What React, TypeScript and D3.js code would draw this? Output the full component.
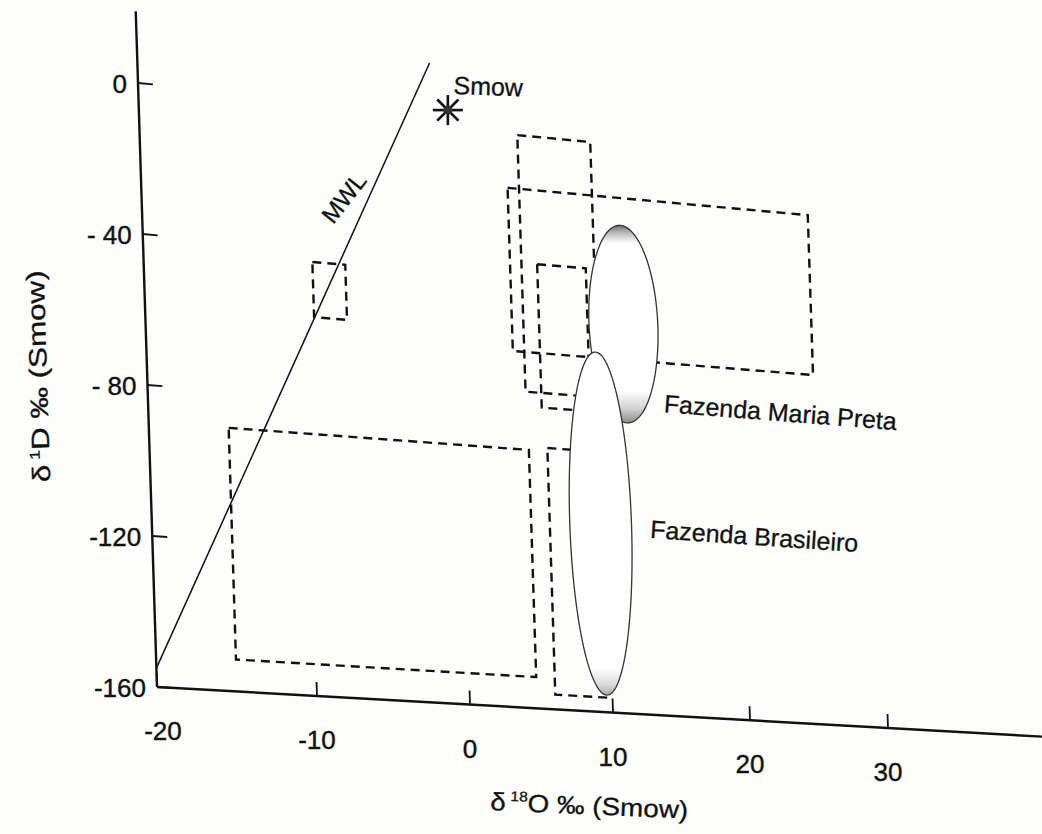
import React from "react";
import * as d3 from "d3";

// ---------- data ----------
const xTicks = [-20, -10, 0, 10, 20, 30];
const xTickLabels = ["-20", "-10", "0", "10", "20", "30"];
const yTicks = [0, -40, -80, -120, -160];
const yTickLabels = ["0", "- 40", "- 80", "-120", "-160"];

// dashed fields (δ18O range x δD range)
const boxX0 = [-9.4, -15.0, 6.0, 4.6, 3.8, 5.7];
const boxX1 = [-7.25, 4.7, 9.7, 9.7, 25.4, 9.1];
const boxY0 = [-58.4, -151.5, -156.0, -74.0, -63.2, -78.0];
const boxY1 = [-43.6, -89.8, -88.9, -4.3, -18.9, -39.0];

// ellipses (drawn in this order)
const fieldNames = ["Fazenda Maria Preta", "Fazenda Brasileiro"];
const fieldCx = [11.7, 9.6];
const fieldCy = [-53.4, -108.5];
const fieldRx = [2.5, 2.2];
const fieldRy = [27.0, 46.8];
const fieldLabelX = [14.4, 13.1];
const fieldLabelY = [-76.7, -111.5];

// meteoric water line end points
const mwlX = [-20, -1.3];
const mwlY = [-155, 13];
const mwlLabel = { text: "MWL", x: -7.2, y: -25.6 };

const smow = { x: -0.2, y: 0.7, label: "Smow", lx: 0.2, ly: 5.2 };

// ---------- layout (photographed, slightly skewed frame) ----------
const W = 1042;
const H = 834;
const xs = d3
  .scaleLinear()
  .domain(xTicks)
  .range([0, 160, 313, 456, 593, 731].map((d) => d / 731));
const ys = d3.scaleLinear().domain([-160, 0]).range([0, 1]);
const P00 = [157, 687];
const P10 = [888, 728];
const P01 = [138, 83];
const P11 = [869, 153];

function project(x: number, y: number): [number, number] {
  const u = xs(x);
  const v = ys(y);
  const a = (1 - u) * (1 - v), b = u * (1 - v), c = (1 - u) * v, d = u * v;
  return [
    a * P00[0] + b * P10[0] + c * P01[0] + d * P11[0],
    a * P00[1] + b * P10[1] + c * P01[1] + d * P11[1],
  ];
}
function unitDir(x: number, y: number, dx: number, dy: number): [number, number] {
  const p = project(x, y);
  const q = project(x + dx, y + dy);
  const l = Math.hypot(q[0] - p[0], q[1] - p[1]);
  return [(q[0] - p[0]) / l, (q[1] - p[1]) / l];
}
function angleAt(x: number, y: number) {
  const d = unitDir(x, y, 1, 0);
  return (Math.atan2(d[1], d[0]) * 180) / Math.PI;
}

const line = d3.line<[number, number]>().x((d) => d[0]).y((d) => d[1]);
const closed = d3
  .line<[number, number]>()
  .x((d) => d[0])
  .y((d) => d[1])
  .curve(d3.curveLinearClosed);

const FONT = "'Liberation Sans', Arial, Helvetica, sans-serif";
const INK = "#111";

export default function App() {
  const xAxis = line([project(-20, -160), project(45, -160)]);
  const yAxis = line([project(-20, -160), project(-20, 19)]);

  const yAxisAngle = (() => {
    const d = unitDir(-20, -80, 0, 1);
    return (Math.atan2(d[1], d[0]) * 180) / Math.PI;
  })();

  const ellipsePaths = fieldNames.map((_, i) => {
    const pts: [number, number][] = d3.range(0, 160).map((k) => {
      const t = (k / 160) * Math.PI * 2;
      return project(
        fieldCx[i] + fieldRx[i] * Math.cos(t),
        fieldCy[i] + fieldRy[i] * Math.sin(t)
      );
    });
    return closed(pts) as string;
  });

  const star = project(smow.x, smow.y);
  const smowL = project(smow.lx, smow.ly);
  const mwlL = project(mwlLabel.x, mwlLabel.y);

  return (
    <svg
      width={W}
      height={H}
      style={{ position: "absolute", left: 0, top: 0, display: "block" }}
      fontFamily={FONT}
    >
      <defs>
        <linearGradient id="gMP" x1="0" y1="0" x2="0" y2="1">
          <stop offset="0" stopColor="#707070" />
          <stop offset="0.035" stopColor="#b5b5b5" />
          <stop offset="0.09" stopColor="#ffffff" />
          <stop offset="0.84" stopColor="#ffffff" />
          <stop offset="0.93" stopColor="#cfcfcf" />
          <stop offset="1" stopColor="#8c8c8c" />
        </linearGradient>
        <linearGradient id="gFB" x1="0" y1="0" x2="0" y2="1">
          <stop offset="0" stopColor="#ffffff" />
          <stop offset="0.92" stopColor="#ffffff" />
          <stop offset="0.97" stopColor="#dadada" />
          <stop offset="1" stopColor="#a8a8a8" />
        </linearGradient>
      </defs>
      <rect x={0} y={0} width={W} height={H} fill="#fdfdfc" />

      {/* axes */}
      <path d={xAxis as string} stroke={INK} strokeWidth={2.4} fill="none" />
      <path d={yAxis as string} stroke={INK} strokeWidth={2.4} fill="none" />

      {/* y ticks */}
      {yTicks.map((t, i) => {
        const p = project(-20, t);
        const d = unitDir(-20, t, 1, 0);
        return (
          <g key={"yt" + i}>
            <line
              x1={p[0]}
              y1={p[1]}
              x2={p[0] + d[0] * 15}
              y2={p[1] + d[1] * 15}
              stroke={INK}
              strokeWidth={1.8}
            />
            <text
              x={p[0] - 11}
              y={p[1] + 10}
              fontSize={26}
              textAnchor="end"
              fill={INK}
              stroke={INK}
              strokeWidth={0.4}
            >
              {yTickLabels[i]}
            </text>
          </g>
        );
      })}

      {/* x ticks */}
      {xTicks.map((t, i) => {
        const p = project(t, -160);
        const d = unitDir(t, -160, 0, 1);
        return (
          <g key={"xt" + i}>
            <line
              x1={p[0]}
              y1={p[1]}
              x2={p[0] + d[0] * 14}
              y2={p[1] + d[1] * 14}
              stroke={INK}
              strokeWidth={1.8}
            />
            <text
              x={p[0] + (t === -20 ? 6 : 0)}
              y={p[1] + 53}
              fontSize={26}
              textAnchor="middle"
              fill={INK}
              stroke={INK}
              strokeWidth={0.4}
            >
              {xTickLabels[i]}
            </text>
          </g>
        );
      })}

      {/* axis titles */}
      <text
        transform={`translate(490,810) rotate(2.5)`}
        fontSize={25}
        fill={INK}
        stroke={INK}
        strokeWidth={0.3}
        textLength={198}
        lengthAdjust="spacingAndGlyphs"
      >
        <tspan>δ</tspan>
        <tspan dx={4} dy={-10} fontSize={14}>18</tspan>
        <tspan dy={10}>O ‰ (Smow)</tspan>
      </text>
      <text
        transform={`translate(47,376) rotate(${yAxisAngle})`}
        fontSize={25}
        fill={INK}
        stroke={INK}
        strokeWidth={0.3}
        textAnchor="middle"
        textLength={212}
        lengthAdjust="spacingAndGlyphs"
      >
        <tspan>δ</tspan>
        <tspan dx={4} dy={-10} fontSize={14}>1</tspan>
        <tspan dy={10}>D ‰ (Smow)</tspan>
      </text>

      {/* MWL */}
      <path
        d={line(mwlX.map((x, i) => project(x, mwlY[i]))) as string}
        stroke={INK}
        strokeWidth={1.5}
        fill="none"
      />
      <text
        transform={`translate(${mwlL[0]},${mwlL[1]}) rotate(-52)`}
        fontSize={24}
        textAnchor="middle"
        dy="0.35em"
        fill={INK}
        stroke={INK}
        strokeWidth={0.3}
      >
        {mwlLabel.text}
      </text>

      {/* dashed boxes */}
      {boxX0.map((x0, i) => {
        const pts: [number, number][] = [
          project(x0, boxY1[i]),
          project(boxX1[i], boxY1[i]),
          project(boxX1[i], boxY0[i]),
          project(x0, boxY0[i]),
        ];
        return (
          <path
            key={"b" + i}
            d={closed(pts) as string}
            fill="none"
            stroke={INK}
            strokeWidth={2.4}
            strokeDasharray="9 6"
          />
        );
      })}

      {/* ellipses */}
      <path d={ellipsePaths[0]} fill="url(#gMP)" stroke="#333" strokeWidth={1.3} />
      <path d={ellipsePaths[1]} fill="url(#gFB)" stroke="#333" strokeWidth={1.3} />

      {/* field labels */}
      {fieldNames.map((n, i) => {
        const p = project(fieldLabelX[i], fieldLabelY[i]);
        return (
          <text
            key={"fl" + i}
            transform={`translate(${p[0]},${p[1]}) rotate(${angleAt(
              fieldLabelX[i],
              fieldLabelY[i]
            )})`}
            fontSize={25}
            fill={INK}
            stroke={INK}
            strokeWidth={0.3}
          >
            {n}
          </text>
        );
      })}

      {/* Smow star */}
      <g transform={`translate(${star[0]},${star[1]})`}>
        {[0, 45, 90, 135].map((a) => (
          <line
            key={"s" + a}
            x1={-15}
            y1={0}
            x2={15}
            y2={0}
            transform={`rotate(${a})`}
            stroke={INK}
            strokeWidth={2.6}
          />
        ))}
        <circle r={4.5} fill="#333" />
      </g>
      <text
        transform={`translate(${smowL[0]},${smowL[1]}) rotate(2)`}
        fontSize={25}
        fill={INK}
        stroke={INK}
        strokeWidth={0.3}
      >
        {smow.label}
      </text>
    </svg>
  );
}
